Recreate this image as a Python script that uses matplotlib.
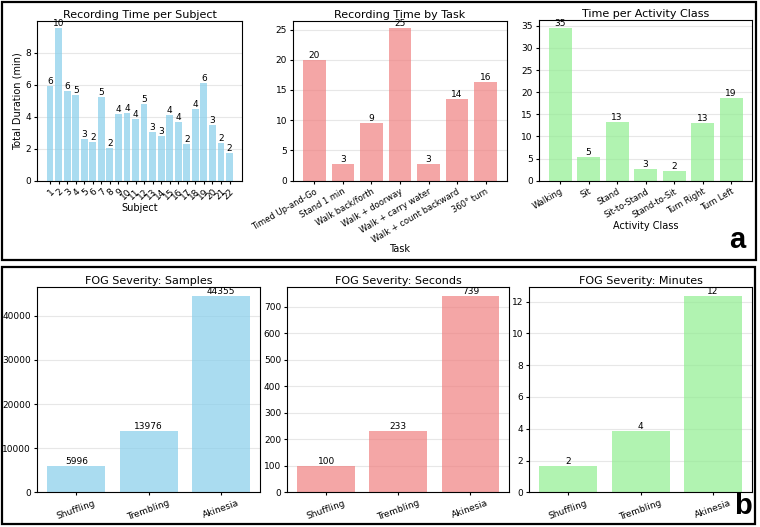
import matplotlib
matplotlib.use("Agg")
import matplotlib.pyplot as plt
from matplotlib.patches import Rectangle

# data
subjects = [str(i) for i in range(1, 23)]
subject_min = [5.94, 9.52, 5.63, 5.37, 2.6, 2.4, 5.2, 2.05, 4.14, 4.25, 3.85,
               4.77, 3.04, 2.8, 4.12, 3.66, 2.28, 4.47, 6.09, 3.45, 2.36, 1.74]

tasks = ["Timed Up-and-Go", "Stand 1 min", "Walk back/forth", "Walk + doorway",
         "Walk + carry water", "Walk + count backward", "360° turn"]
task_min = [19.88, 2.76, 9.48, 25.2, 2.7, 13.5, 16.3]

activities = ["Walking", "Sit", "Stand", "Sit-to-Stand", "Stand-to-Sit",
              "Turn Right", "Turn Left"]
activity_min = [34.6, 5.36, 13.3, 2.7, 2.2, 13.0, 18.6]

fog_types = ["Shuffling", "Trembling", "Akinesia"]
fog_samples = [5996, 13976, 44355]
fog_seconds = [99.93, 232.93, 739.25]
fog_minutes = [1.67, 3.88, 12.32]

W, H = 760, 527
fig = plt.figure(figsize=(W / 100, H / 100), dpi=100)


def px_axes(l, t, r, b):
    return fig.add_axes([l / W, 1 - b / H, (r - l) / W, (b - t) / H])


def bars(ax, cats, vals, color, title, rot, ha, tick_fs=6.5):
    x = range(len(cats))
    cont = ax.bar(x, vals, color=color, alpha=0.7)
    ax.bar_label(cont, labels=[f"{v:.0f}" for v in vals], fontsize=6.5, padding=0)
    ax.set_xticks(list(x))
    ax.set_xticklabels(cats, rotation=rot, ha=ha, fontsize=tick_fs,
                       rotation_mode="anchor" if ha == "right" else "default")
    ax.tick_params(axis="y", labelsize=6.5, length=2.5, pad=2)
    ax.tick_params(axis="x", length=2.5, pad=2)
    ax.set_title(title, fontsize=8, pad=2)
    ax.grid(axis="y", alpha=0.3)
    ax.set_axisbelow(True)


# panel a
ax1 = px_axes(37.3, 20.7, 242.3, 180.7)
bars(ax1, subjects, subject_min, "skyblue", "Recording Time per Subject", 45, "right")
ax1.set_ylabel("Total Duration (min)", fontsize=7, labelpad=2)
ax1.set_xlabel("Subject", fontsize=7, labelpad=1)
ax1.set_yticks([0, 2, 4, 6, 8])

ax2 = px_axes(293.3, 20.7, 506.7, 180.7)
bars(ax2, tasks, task_min, "lightcoral", "Recording Time by Task", 30, "right", 6)
ax2.set_xlabel("Task", fontsize=7, labelpad=0)

ax3 = px_axes(539, 20, 752.3, 180.7)
bars(ax3, activities, activity_min, "lightgreen", "Time per Activity Class", 30, "right", 6)
ax3.set_xlabel("Activity Class", fontsize=7, labelpad=1)

# panel b
ax4 = px_axes(37.3, 286.7, 260, 492.3)
bars(ax4, fog_types, fog_samples, "skyblue", "FOG Severity: Samples", 20, "center")
ax4.set_yticks([0, 10000, 20000, 30000, 40000])

ax5 = px_axes(287.3, 286.7, 509.3, 492.3)
bars(ax5, fog_types, fog_seconds, "lightcoral", "FOG Severity: Seconds", 20, "center")
ax5.set_yticks(range(0, 800, 100))

ax6 = px_axes(529.3, 286.7, 752, 492.3)
bars(ax6, fog_types, fog_minutes, "lightgreen", "FOG Severity: Minutes", 20, "center")
ax6.set_yticks(range(0, 14, 2))

# frames and panel letters
for (l, t, r, b) in [(2, 1.5, 756, 259.5), (2, 267, 755, 524)]:
    fig.add_artist(Rectangle((l / W, 1 - b / H), (r - l) / W, (b - t) / H,
                             transform=fig.transFigure, fill=False,
                             edgecolor="black", linewidth=1.6))

fig.text(737 / W, 1 - 240 / H, "a", fontsize=21, fontweight="bold",
         family="Liberation Sans", ha="center", va="center")
fig.text(743 / W, 1 - 506 / H, "b", fontsize=21, fontweight="bold",
         family="Liberation Sans", ha="center", va="center")

fig.savefig("out.png", dpi=100)
